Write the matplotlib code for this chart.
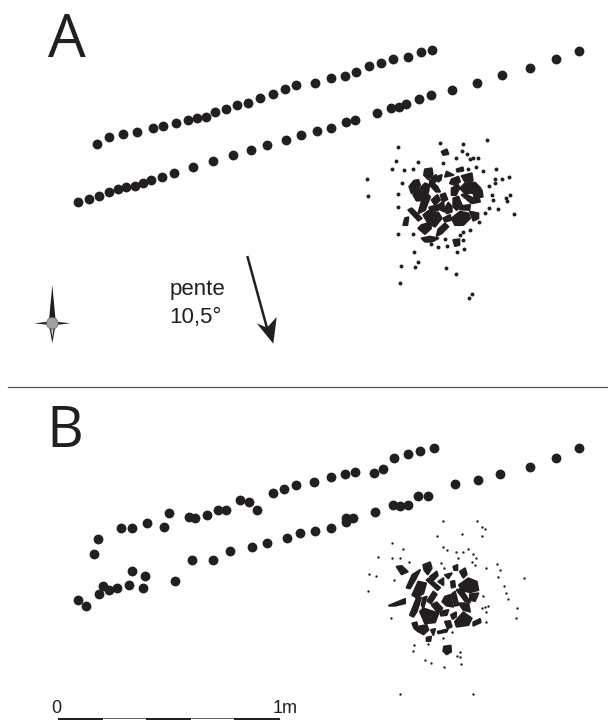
# -*- coding: utf-8 -*-
"""
Plan de deux nappes de points et amas de pierres (A / B)
Coordonnées lues sur l'image, en pixels.
"""
import matplotlib
matplotlib.use("Agg")
import numpy as np
import matplotlib.pyplot as plt
from matplotlib.patches import Polygon, Circle, Rectangle

INK = "#231f20"

# panneau A
a_upper_x = [96.7, 109, 123.3, 137, 153, 163.3, 176.3, 188.3, 197, 206.3, 215, 226, 237.3, 248.3, 260, 272.7, 284.7, 296, 315.3, 331.3, 345, 356.3, 369.3, 381, 393.3, 408.3, 420.7, 431.7]
a_upper_y = [143.7, 137, 134, 132, 128.3, 126, 123, 120, 118.3, 116.7, 112.3, 109.3, 104.7, 102.7, 97.7, 94, 89, 85, 82.7, 77.7, 75.7, 71.7, 66.3, 63.3, 59.3, 56.7, 51.7, 50]
a_lower_x = [78.3, 89.3, 99, 109, 118, 125.7, 134.7, 143.3, 151, 161.7, 173.7, 193.3, 212.7, 232.7, 251, 267.3, 286, 301.3, 316.7, 331.3, 346, 355, 376.7, 390.7, 398.7, 406.3, 418.7, 430.7, 451.7, 477, 502.3, 530.3, 556.3, 579.3]
a_lower_y = [202, 199, 196, 192, 189.3, 187, 185.7, 182.7, 179.7, 176.7, 172.7, 167.3, 161.3, 155.3, 150.3, 145, 139.7, 135, 131.3, 128, 122.3, 120.3, 113.3, 107.7, 107, 103.7, 99, 95, 89.7, 83.3, 75.3, 68.3, 59.3, 51]

# panneau B
b_upper_x = [94, 98.3, 121, 132, 147.3, 164.3, 169, 188.7, 194.7, 207, 218.3, 225.7, 240, 248.7, 257.3, 272.7, 284, 296.3, 314, 330.7, 345, 355, 373.7, 383, 393.7, 408.3, 419.7, 433.7]
b_upper_y = [554.3, 539, 527.7, 528, 523.3, 527, 513.3, 517, 518.3, 515, 510.3, 509.7, 499.7, 501.7, 510.3, 493.3, 488.7, 485.3, 481.7, 476.7, 474, 471.7, 473.3, 469.3, 458.3, 454, 451.3, 448.3]
b_lower_x = [78.3, 86, 99.3, 102.7, 109, 117, 129, 132, 143.3, 145, 175.3, 192, 213.3, 230.3, 251.7, 267, 287, 300.3, 315, 331, 346, 346, 352.7, 375, 392.7, 400.3, 408, 418.3, 428.3, 455.3, 477.7, 500.3, 530.3, 556.3, 579.3]
b_lower_y = [600.3, 606, 594.3, 586.3, 589.7, 588, 584.7, 570.7, 588.3, 576.3, 581.3, 560.3, 560, 550.7, 547.3, 543, 538.3, 532.7, 530.7, 527.7, 518.3, 521.5, 518, 511.7, 505.3, 506.3, 505, 496.3, 495.7, 484.3, 480.3, 474, 466.7, 457.7, 447.7]

# pierres, en tiers de pixel depuis l'origine de chaque amas
a_origin = (350, 130)
a_stones = [
    [(225, 118), (245, 115), (248, 135), (235, 148), (222, 135)],
    [(245, 145), (258, 135), (262, 150), (250, 160)],
    [(262, 140), (275, 135), (272, 150), (265, 155)],
    [(178, 170), (192, 152), (205, 150), (210, 165), (195, 185), (185, 190)],
    [(205, 180), (225, 160), (238, 165), (235, 185), (225, 210), (200, 212), (190, 195)],
    [(240, 150), (262, 170), (270, 185), (258, 185), (240, 165)],
    [(305, 148), (325, 140), (330, 155), (315, 165), (300, 160)],
    [(335, 138), (365, 130), (368, 152), (345, 155)],
    [(330, 175), (345, 160), (375, 158), (392, 175), (375, 188), (345, 190)],
    [(305, 175), (325, 165), (328, 175), (318, 195), (305, 195)],
    [(335, 195), (345, 192), (370, 205), (385, 200), (390, 215), (365, 220)],
    [(370, 190), (395, 180), (398, 200), (375, 205)],
    [(310, 205), (325, 200), (335, 225), (320, 240), (310, 230)],
    [(335, 228), (360, 225), (358, 240), (330, 238)],
    [(215, 215), (235, 195), (240, 200), (225, 240), (205, 250)],
    [(245, 210), (262, 195), (270, 210), (255, 225)],
    [(272, 195), (285, 190), (292, 208), (278, 215)],
    [(238, 232), (265, 225), (265, 240), (240, 240)],
    [(270, 222), (280, 215), (283, 245), (270, 238)],
    [(285, 235), (295, 218), (305, 230), (305, 245), (290, 250)],
    [(220, 255), (235, 243), (265, 248), (275, 265), (255, 290), (235, 280)],
    [(305, 265), (330, 245), (355, 250), (360, 265), (340, 285), (315, 285)],
    [(360, 245), (385, 250), (385, 265), (370, 272)],
    [(175, 240), (185, 235), (215, 265), (205, 272)],
    [(215, 285), (240, 278), (243, 295), (225, 312), (205, 295)],
    [(265, 298), (285, 280), (295, 290), (275, 310), (260, 318)],
    [(280, 265), (300, 255), (303, 270), (285, 275)],
    [(165, 265), (175, 262), (172, 285), (160, 285)],
    [(215, 325), (240, 320), (265, 325), (245, 335), (225, 335)],
    [(310, 330), (328, 328), (328, 345), (315, 348)],
    [(275, 65), (290, 58), (295, 72), (280, 75)],
    [(320, 118), (338, 112), (340, 122), (322, 125)],
    [(290, 125), (310, 135), (285, 140)],
]
a_bits = [(143, 50), (270, 40), (340, 43), (411, 30), (352, 72), (360, 88), (368, 85), (385, 85), (318, 85), (335, 62), (138, 92), (205, 96), (280, 100), (378, 112), (400, 124), (438, 116), (125, 117), (163, 120), (188, 117), (353, 118), (435, 146), (457, 148), (478, 141), (435, 160), (418, 168), (155, 160), (50, 148), (53, 198), (145, 193), (425, 195), (428, 210), (480, 195), (468, 205), (470, 212), (145, 232), (418, 235), (405, 248), (445, 238), (493, 253), (387, 275), (143, 313), (188, 311), (340, 305), (360, 300), (340, 330), (285, 327), (243, 342), (265, 350), (290, 347), (343, 357), (320, 367), (193, 365), (203, 395), (152, 407), (195, 410), (287, 414), (318, 432), (150, 458), (365, 493), (358, 503), (330, 315)]

b_origin = (355, 515)
b_stones = [
    [(205, 150), (225, 142), (230, 160), (218, 178), (208, 165)],
    [(125, 155), (140, 153), (158, 170), (140, 178)],
    [(102, 272), (150, 252), (150, 265), (120, 272)],
    [(155, 218), (172, 180), (195, 165), (180, 195), (165, 220)],
    [(172, 240), (190, 200), (213, 205), (205, 235), (185, 248)],
    [(225, 185), (245, 170), (248, 182), (235, 195)],
    [(215, 195), (222, 190), (255, 218), (248, 225)],
    [(217, 258), (235, 230), (245, 238), (228, 265)],
    [(165, 300), (185, 250), (198, 248), (185, 290), (175, 305)],
    [(195, 290), (205, 280), (250, 295), (240, 322), (210, 325)],
    [(230, 270), (245, 262), (262, 280), (248, 292)],
    [(205, 248), (215, 245), (205, 280), (200, 270)],
    [(255, 290), (280, 285), (275, 300), (258, 302)],
    [(190, 335), (215, 330), (220, 345), (205, 358), (192, 350)],
    [(172, 325), (185, 322), (190, 350), (178, 340)],
    [(270, 320), (285, 318), (290, 335), (278, 340)],
    [(300, 320), (325, 292), (350, 310), (340, 330), (305, 335)],
    [(312, 210), (340, 190), (365, 200), (370, 225), (345, 232), (320, 225)],
    [(305, 225), (320, 222), (345, 262), (330, 258)],
    [(290, 238), (300, 230), (310, 270), (300, 272)],
    [(270, 245), (285, 240), (295, 275), (275, 272), (262, 260)],
    [(345, 238), (370, 235), (360, 258), (345, 255)],
    [(315, 170), (330, 160), (335, 178), (325, 188)],
    [(270, 180), (290, 175), (280, 190)],
    [(295, 155), (307, 150), (307, 165), (298, 165)],
    [(250, 200), (265, 190), (265, 210)],
    [(288, 200), (298, 198), (300, 215), (290, 218)],
    [(355, 322), (375, 312), (377, 322), (355, 332)],
    [(248, 350), (278, 343), (275, 350), (250, 355)],
    [(267, 395), (287, 392), (288, 410), (275, 418), (265, 408)],
    [(288, 300), (303, 292), (303, 305), (293, 312)],
    [(312, 265), (340, 265), (345, 290), (325, 285)],
    [(228, 345), (240, 342), (235, 360)],
    [(215, 368), (228, 365), (226, 378), (215, 378)],
]
b_bits = [(263, 17), (366, 19), (380, 36), (390, 43), (380, 62), (320, 58), (245, 63), (110, 83), (145, 103), (68, 127), (112, 128), (135, 130), (162, 142), (265, 95), (275, 105), (302, 110), (325, 112), (338, 103), (355, 118), (362, 128), (310, 128), (425, 147), (258, 143), (267, 160), (350, 142), (360, 150), (393, 160), (435, 165), (428, 187), (508, 190), (42, 178), (62, 183), (118, 195), (38, 228), (448, 212), (453, 235), (460, 252), (383, 243), (380, 278), (390, 277), (400, 272), (393, 292), (485, 280), (482, 310), (392, 322), (108, 310), (290, 350), (265, 370), (218, 388), (176, 390), (175, 407), (316, 410), (305, 422), (316, 427), (317, 447), (210, 435), (227, 445), (268, 455), (135, 537), (353, 538)]

# échelle
scale_edges = [57.7, 102.7, 146, 190.7, 234, 280]


def to_px(pts, origin):
    arr = np.array(pts, dtype=float) / 3.0
    return arr + np.array(origin)


def draw_cluster(ax, stones, bits, origin, bit_size):
    # bord épais : les pierres se touchent presque, il reste de fines fissures
    for stone in stones:
        ax.add_patch(Polygon(to_px(stone, origin), closed=True, facecolor=INK,
                             edgecolor=INK, lw=1.5, joinstyle="round", zorder=3))
    b = to_px(bits, origin)
    ax.scatter(b[:, 0], b[:, 1], s=bit_size, color=INK, linewidths=0, zorder=3)


fig = plt.figure(figsize=(6.08, 7.2), dpi=100)
ax = fig.add_axes([0, 0, 1, 1])
ax.set_xlim(0, 608)
ax.set_ylim(720, 0)
ax.axis("off")

for xs, ys in [(a_upper_x, a_upper_y), (a_lower_x, a_lower_y),
               (b_upper_x, b_upper_y), (b_lower_x, b_lower_y)]:
    ax.scatter(xs, ys, s=50, color=INK, linewidths=0, zorder=3)

draw_cluster(ax, a_stones, a_bits, a_origin, 8)
draw_cluster(ax, b_stones, b_bits, b_origin, 3)

# lettres
ax.text(48, 56.7, "A", family="Open Sans", fontsize=43, color=INK, va="baseline")
ax.text(46, 446.7, "B", family="Open Sans", fontsize=41, color=INK, va="baseline")

# séparateur
ax.plot([8, 608], [387.3, 387.3], color="#555555", lw=0.9)

# pente
ax.text(197, 295, "pente", family="Liberation Sans", fontsize=16, color=INK,
        ha="center", va="baseline")
ax.text(195, 323, "10,5°", family="Liberation Sans", fontsize=16, color=INK,
        ha="center", va="baseline")
ax.plot([247.3, 267], [256, 328], color=INK, lw=1.8, solid_capstyle="butt")
ax.add_patch(Polygon([(273.3, 343.7), (256.7, 323.3), (267, 327.7), (276.7, 317)],
                     closed=True, facecolor=INK, edgecolor="none"))

# rose des vents
cx, cy = 52.3, 323.3
ax.add_patch(Polygon([(cx, 285), (cx + 3.6, cy), (cx, cy + 20), (cx - 3.6, cy)],
                     closed=True, facecolor=INK, edgecolor="none"))
ax.add_patch(Polygon([(cx, cy + 3), (cx + 1.2, cy + 6), (cx, cy + 14), (cx - 1.2, cy + 6)],
                     closed=True, facecolor="#d0d0d0", edgecolor="none"))
ax.add_patch(Polygon([(34, cy), (cx, cy - 2), (70.7, cy), (cx, cy + 2)],
                     closed=True, facecolor=INK, edgecolor="none"))
ax.add_patch(Circle((cx, cy), 5.8, facecolor="#a0a0a0", edgecolor="#666666", lw=0.5, zorder=4))

# barre d'échelle
for i in range(len(scale_edges) - 1):
    left, right = scale_edges[i], scale_edges[i + 1]
    if i % 2 == 0:
        ax.add_patch(Rectangle((left, 717.6), right - left, 2.4, facecolor=INK, edgecolor="none"))
    else:
        ax.plot([left, right], [717.8, 717.8], color=INK, lw=0.5)
ax.text(56.7, 713, "0", family="Liberation Sans", fontsize=13, color=INK,
        ha="center", va="baseline")
ax.text(273, 713, "1m", family="Liberation Sans", fontsize=13, color=INK,
        ha="left", va="baseline")

fig.savefig("out.png", dpi=100)
